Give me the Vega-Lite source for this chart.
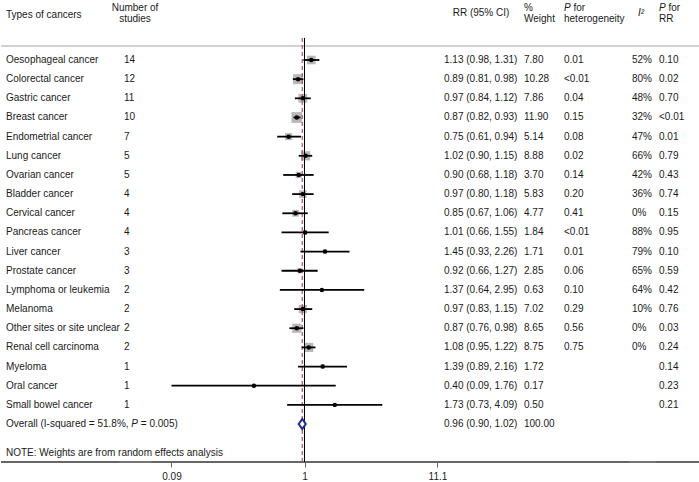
{
  "$schema": "https://vega.github.io/schema/vega-lite/v6.json",
  "padding": 0,
  "spacing": 0,
  "bounds": "flush",
  "background": "white",
  "config": {
    "view": {"stroke": null},
    "concat": {"spacing": 0},
    "text": {"font": "Liberation Sans", "fontSize": 10, "baseline": "middle", "align": "left", "color": "#1a1a1a"}
  },
  "datasets": {
    "rows": [
      {"i": 1, "cancer": "Oesophageal cancer", "n": 14, "rr": 1.13, "lo": 0.98, "hi": 1.31, "ci": "1.13 (0.98, 1.31)", "w": 7.80, "wt": "7.80", "phet": "0.01", "i2": "52%", "prr": "0.10"},
      {"i": 2, "cancer": "Colorectal cancer", "n": 12, "rr": 0.89, "lo": 0.81, "hi": 0.98, "ci": "0.89 (0.81, 0.98)", "w": 10.28, "wt": "10.28", "phet": "<0.01", "i2": "80%", "prr": "0.02"},
      {"i": 3, "cancer": "Gastric cancer", "n": 11, "rr": 0.97, "lo": 0.84, "hi": 1.12, "ci": "0.97 (0.84, 1.12)", "w": 7.86, "wt": "7.86", "phet": "0.04", "i2": "48%", "prr": "0.70"},
      {"i": 4, "cancer": "Breast cancer", "n": 10, "rr": 0.87, "lo": 0.82, "hi": 0.93, "ci": "0.87 (0.82, 0.93)", "w": 11.90, "wt": "11.90", "phet": "0.15", "i2": "32%", "prr": "<0.01"},
      {"i": 5, "cancer": "Endometrial cancer", "n": 7, "rr": 0.75, "lo": 0.61, "hi": 0.94, "ci": "0.75 (0.61, 0.94)", "w": 5.14, "wt": "5.14", "phet": "0.08", "i2": "47%", "prr": "0.01"},
      {"i": 6, "cancer": "Lung cancer", "n": 5, "rr": 1.02, "lo": 0.90, "hi": 1.15, "ci": "1.02 (0.90, 1.15)", "w": 8.88, "wt": "8.88", "phet": "0.02", "i2": "66%", "prr": "0.79"},
      {"i": 7, "cancer": "Ovarian cancer", "n": 5, "rr": 0.90, "lo": 0.68, "hi": 1.18, "ci": "0.90 (0.68, 1.18)", "w": 3.70, "wt": "3.70", "phet": "0.14", "i2": "42%", "prr": "0.43"},
      {"i": 8, "cancer": "Bladder cancer", "n": 4, "rr": 0.97, "lo": 0.80, "hi": 1.18, "ci": "0.97 (0.80, 1.18)", "w": 5.83, "wt": "5.83", "phet": "0.20", "i2": "36%", "prr": "0.74"},
      {"i": 9, "cancer": "Cervical cancer", "n": 4, "rr": 0.85, "lo": 0.67, "hi": 1.06, "ci": "0.85 (0.67, 1.06)", "w": 4.77, "wt": "4.77", "phet": "0.41", "i2": "0%", "prr": "0.15"},
      {"i": 10, "cancer": "Pancreas cancer", "n": 4, "rr": 1.01, "lo": 0.66, "hi": 1.55, "ci": "1.01 (0.66, 1.55)", "w": 1.84, "wt": "1.84", "phet": "<0.01", "i2": "88%", "prr": "0.95"},
      {"i": 11, "cancer": "Liver cancer", "n": 3, "rr": 1.45, "lo": 0.93, "hi": 2.26, "ci": "1.45 (0.93, 2.26)", "w": 1.71, "wt": "1.71", "phet": "0.01", "i2": "79%", "prr": "0.10"},
      {"i": 12, "cancer": "Prostate cancer", "n": 3, "rr": 0.92, "lo": 0.66, "hi": 1.27, "ci": "0.92 (0.66, 1.27)", "w": 2.85, "wt": "2.85", "phet": "0.06", "i2": "65%", "prr": "0.59"},
      {"i": 13, "cancer": "Lymphoma or leukemia", "n": 2, "rr": 1.37, "lo": 0.64, "hi": 2.95, "ci": "1.37 (0.64, 2.95)", "w": 0.63, "wt": "0.63", "phet": "0.10", "i2": "64%", "prr": "0.42"},
      {"i": 14, "cancer": "Melanoma", "n": 2, "rr": 0.97, "lo": 0.83, "hi": 1.15, "ci": "0.97 (0.83, 1.15)", "w": 7.02, "wt": "7.02", "phet": "0.29", "i2": "10%", "prr": "0.76"},
      {"i": 15, "cancer": "Other sites or site unclear", "n": 2, "rr": 0.87, "lo": 0.76, "hi": 0.98, "ci": "0.87 (0.76, 0.98)", "w": 8.65, "wt": "8.65", "phet": "0.56", "i2": "0%", "prr": "0.03"},
      {"i": 16, "cancer": "Renal cell carcinoma", "n": 2, "rr": 1.08, "lo": 0.95, "hi": 1.22, "ci": "1.08 (0.95, 1.22)", "w": 8.75, "wt": "8.75", "phet": "0.75", "i2": "0%", "prr": "0.24"},
      {"i": 17, "cancer": "Myeloma", "n": 1, "rr": 1.39, "lo": 0.89, "hi": 2.16, "ci": "1.39 (0.89, 2.16)", "w": 1.72, "wt": "1.72", "phet": "", "i2": "", "prr": "0.14"},
      {"i": 18, "cancer": "Oral cancer", "n": 1, "rr": 0.40, "lo": 0.09, "hi": 1.76, "ci": "0.40 (0.09, 1.76)", "w": 0.17, "wt": "0.17", "phet": "", "i2": "", "prr": "0.23"},
      {"i": 19, "cancer": "Small bowel cancer", "n": 1, "rr": 1.73, "lo": 0.73, "hi": 4.09, "ci": "1.73 (0.73, 4.09)", "w": 0.50, "wt": "0.50", "phet": "", "i2": "", "prr": "0.21"}
    ],
    "overall": [
      {"i": 20, "rr": 0.96, "lo": 0.90, "hi": 1.02, "ci": "0.96 (0.90, 1.02)", "wt": "100.00", "lab1": "Overall (I-squared = 51.8%,", "lab2": "P", "lab3": "= 0.005)"}
    ],
    "one": [{}]
  },
  "hconcat": [
    {
      "width": 118, "height": 462,
      "layer": [
        {"data": {"name": "one"}, "mark": {"type": "rule", "color": "#d0d0d0", "strokeWidth": 2}, "encoding": {"y": {"datum": 0.2693, "type": "quantitative", "scale": {"domain": [-2.1315, 21.981], "reverse": true, "nice": false, "zero": false}, "axis": null}}},
        {"data": {"name": "one"}, "mark": {"type": "rule", "color": "#666666", "strokeWidth": 1.8}, "encoding": {"y": {"datum": 21.981, "type": "quantitative"}}},
        {"data": {"name": "one"}, "mark": {"type": "text", "dx": 5}, "encoding": {"x": {"datum": 0, "type": "quantitative", "scale": {"domain": [0, 1]}, "axis": null}, "y": {"datum": -1.35, "type": "quantitative"}, "text": {"value": "Types of cancers"}}},
        {"data": {"name": "rows"}, "mark": {"type": "text", "dx": 5}, "encoding": {"x": {"datum": 0, "type": "quantitative"}, "y": {"field": "i", "type": "quantitative"}, "text": {"field": "cancer"}}},
        {"data": {"name": "overall"}, "mark": {"type": "text", "dx": 5}, "encoding": {"x": {"datum": 0, "type": "quantitative"}, "y": {"field": "i", "type": "quantitative"}, "text": {"field": "lab1"}}},
        {"data": {"name": "overall"}, "mark": {"type": "text", "dx": 130.3, "fontStyle": "italic"}, "encoding": {"x": {"datum": 0, "type": "quantitative"}, "y": {"field": "i", "type": "quantitative"}, "text": {"field": "lab2"}}},
        {"data": {"name": "overall"}, "mark": {"type": "text", "dx": 139.8}, "encoding": {"x": {"datum": 0, "type": "quantitative"}, "y": {"field": "i", "type": "quantitative"}, "text": {"field": "lab3"}}},
        {"data": {"name": "one"}, "mark": {"type": "text", "dx": 5}, "encoding": {"x": {"datum": 0, "type": "quantitative"}, "y": {"datum": 21.5, "type": "quantitative"}, "text": {"value": "NOTE: Weights are from random effects analysis"}}}
      ]
    },
    {
      "width": 32, "height": 462,
      "layer": [
        {"data": {"name": "one"}, "mark": {"type": "rule", "color": "#d0d0d0", "strokeWidth": 2}, "encoding": {"y": {"datum": 0.2693, "type": "quantitative", "scale": {"domain": [-2.1315, 21.981], "reverse": true, "nice": false, "zero": false}, "axis": null}}},
        {"data": {"name": "one"}, "mark": {"type": "rule", "color": "#666666", "strokeWidth": 1.8}, "encoding": {"y": {"datum": 21.981, "type": "quantitative"}}},
        {"data": {"name": "one"}, "mark": {"type": "text", "align": "center"}, "encoding": {"x": {"datum": 0.5, "type": "quantitative", "scale": {"domain": [0, 1]}, "axis": null}, "y": {"datum": -1.714, "type": "quantitative"}, "text": {"value": "Number of"}}},
        {"data": {"name": "one"}, "mark": {"type": "text", "align": "center"}, "encoding": {"x": {"datum": 0.5, "type": "quantitative"}, "y": {"datum": -1.14, "type": "quantitative"}, "text": {"value": "studies"}}},
        {"data": {"name": "rows"}, "mark": {"type": "text", "dx": 5}, "encoding": {"x": {"datum": 0, "type": "quantitative"}, "y": {"field": "i", "type": "quantitative"}, "text": {"field": "n"}}}
      ]
    },
    {
      "width": 290, "height": 462,
      "layer": [
        {"data": {"name": "one"}, "mark": {"type": "rule", "color": "#d0d0d0", "strokeWidth": 2}, "encoding": {"y": {"datum": 0.2693, "type": "quantitative", "scale": {"domain": [-2.1315, 21.981], "reverse": true, "nice": false, "zero": false}, "axis": null}}},
        {"data": {"name": "one"}, "mark": {"type": "rule", "color": "#666666", "strokeWidth": 1.8}, "encoding": {"y": {"datum": 21.981, "type": "quantitative"}}},
        {"data": {"name": "rows"}, "mark": {"type": "square", "color": "#b8b8b8", "opacity": 1}, "encoding": {
          "x": {"field": "rr", "type": "quantitative", "scale": {"type": "log", "domain": [0.06211, 11.834], "nice": false}, "axis": {"values": [0.09, 1, 11.1], "format": "~g", "domain": false, "grid": false, "ticks": true, "tickSize": 5, "tickColor": "#666666", "tickWidth": 1, "labelFontSize": 10, "labelFont": "Liberation Sans", "labelColor": "#1a1a1a", "labelPadding": 4, "title": null, "labelFlush": false, "labelOverlap": false}},
          "y": {"field": "i", "type": "quantitative"},
          "size": {"field": "w", "type": "quantitative", "scale": {"type": "linear", "domain": [0, 12], "range": [0, 116]}, "legend": null}}},
        {"data": {"name": "one"}, "mark": {"type": "rule", "color": "black", "strokeWidth": 1}, "encoding": {"x": {"datum": 1, "type": "quantitative"}, "y": {"datum": -0.15, "type": "quantitative"}, "y2": {"datum": 21.981}}},
        {"data": {"name": "overall"}, "mark": {"type": "rule", "color": "#b5505f", "strokeWidth": 1.2, "strokeDash": [4, 3]}, "encoding": {"x": {"field": "rr", "type": "quantitative"}, "y": {"datum": -0.15, "type": "quantitative"}, "y2": {"datum": 21.981}}},
        {"data": {"name": "rows"}, "mark": {"type": "rule", "color": "black", "strokeWidth": 1.8}, "encoding": {"x": {"field": "lo", "type": "quantitative"}, "x2": {"field": "hi"}, "y": {"field": "i", "type": "quantitative"}}},
        {"data": {"name": "rows"}, "mark": {"type": "circle", "color": "black", "size": 20, "opacity": 1}, "encoding": {"x": {"field": "rr", "type": "quantitative"}, "y": {"field": "i", "type": "quantitative"}}},
        {"data": {"name": "overall"}, "mark": {"type": "point", "shape": "M-0.7,0L0,-1L0.7,0L0,1Z", "filled": true, "color": "white", "opacity": 1, "stroke": "#1c2a85", "strokeWidth": 2, "size": 100}, "encoding": {"x": {"field": "rr", "type": "quantitative"}, "y": {"field": "i", "type": "quantitative"}}}
      ]
    },
    {
      "width": 80, "height": 462,
      "layer": [
        {"data": {"name": "one"}, "mark": {"type": "rule", "color": "#d0d0d0", "strokeWidth": 2}, "encoding": {"y": {"datum": 0.2693, "type": "quantitative", "scale": {"domain": [-2.1315, 21.981], "reverse": true, "nice": false, "zero": false}, "axis": null}}},
        {"data": {"name": "one"}, "mark": {"type": "rule", "color": "#666666", "strokeWidth": 1.8}, "encoding": {"y": {"datum": 21.981, "type": "quantitative"}}},
        {"data": {"name": "one"}, "mark": {"type": "text", "align": "center"}, "encoding": {"x": {"datum": 0.5, "type": "quantitative", "scale": {"domain": [0, 1]}, "axis": null}, "y": {"datum": -1.43, "type": "quantitative"}, "text": {"value": "RR (95% CI)"}}},
        {"data": {"name": "rows"}, "mark": {"type": "text", "dx": 3}, "encoding": {"x": {"datum": 0, "type": "quantitative"}, "y": {"field": "i", "type": "quantitative"}, "text": {"field": "ci"}}},
        {"data": {"name": "overall"}, "mark": {"type": "text", "dx": 3}, "encoding": {"x": {"datum": 0, "type": "quantitative"}, "y": {"field": "i", "type": "quantitative"}, "text": {"field": "ci"}}}
      ]
    },
    {
      "width": 40, "height": 462,
      "layer": [
        {"data": {"name": "one"}, "mark": {"type": "rule", "color": "#d0d0d0", "strokeWidth": 2}, "encoding": {"y": {"datum": 0.2693, "type": "quantitative", "scale": {"domain": [-2.1315, 21.981], "reverse": true, "nice": false, "zero": false}, "axis": null}}},
        {"data": {"name": "one"}, "mark": {"type": "rule", "color": "#666666", "strokeWidth": 1.8}, "encoding": {"y": {"datum": 21.981, "type": "quantitative"}}},
        {"data": {"name": "one"}, "mark": {"type": "text", "dx": 3}, "encoding": {"x": {"datum": 0, "type": "quantitative", "scale": {"domain": [0, 1]}, "axis": null}, "y": {"datum": -1.714, "type": "quantitative"}, "text": {"value": "%"}}},
        {"data": {"name": "one"}, "mark": {"type": "text", "dx": 3}, "encoding": {"x": {"datum": 0, "type": "quantitative"}, "y": {"datum": -1.14, "type": "quantitative"}, "text": {"value": "Weight"}}},
        {"data": {"name": "rows"}, "mark": {"type": "text", "dx": 3}, "encoding": {"x": {"datum": 0, "type": "quantitative"}, "y": {"field": "i", "type": "quantitative"}, "text": {"field": "wt"}}},
        {"data": {"name": "overall"}, "mark": {"type": "text", "dx": 3}, "encoding": {"x": {"datum": 0, "type": "quantitative"}, "y": {"field": "i", "type": "quantitative"}, "text": {"field": "wt"}}}
      ]
    },
    {
      "width": 68, "height": 462,
      "layer": [
        {"data": {"name": "one"}, "mark": {"type": "rule", "color": "#d0d0d0", "strokeWidth": 2}, "encoding": {"y": {"datum": 0.2693, "type": "quantitative", "scale": {"domain": [-2.1315, 21.981], "reverse": true, "nice": false, "zero": false}, "axis": null}}},
        {"data": {"name": "one"}, "mark": {"type": "rule", "color": "#666666", "strokeWidth": 1.8}, "encoding": {"y": {"datum": 21.981, "type": "quantitative"}}},
        {"data": {"name": "one"}, "mark": {"type": "text", "dx": 3, "fontStyle": "italic"}, "encoding": {"x": {"datum": 0, "type": "quantitative", "scale": {"domain": [0, 1]}, "axis": null}, "y": {"datum": -1.714, "type": "quantitative"}, "text": {"value": "P"}}},
        {"data": {"name": "one"}, "mark": {"type": "text", "dx": 12.4}, "encoding": {"x": {"datum": 0, "type": "quantitative"}, "y": {"datum": -1.714, "type": "quantitative"}, "text": {"value": "for"}}},
        {"data": {"name": "one"}, "mark": {"type": "text", "dx": 3}, "encoding": {"x": {"datum": 0, "type": "quantitative"}, "y": {"datum": -1.14, "type": "quantitative"}, "text": {"value": "heterogeneity"}}},
        {"data": {"name": "rows"}, "mark": {"type": "text", "dx": 3}, "encoding": {"x": {"datum": 0, "type": "quantitative"}, "y": {"field": "i", "type": "quantitative"}, "text": {"field": "phet"}}}
      ]
    },
    {
      "width": 27, "height": 462,
      "layer": [
        {"data": {"name": "one"}, "mark": {"type": "rule", "color": "#d0d0d0", "strokeWidth": 2}, "encoding": {"y": {"datum": 0.2693, "type": "quantitative", "scale": {"domain": [-2.1315, 21.981], "reverse": true, "nice": false, "zero": false}, "axis": null}}},
        {"data": {"name": "one"}, "mark": {"type": "rule", "color": "#666666", "strokeWidth": 1.8}, "encoding": {"y": {"datum": 21.981, "type": "quantitative"}}},
        {"data": {"name": "one"}, "mark": {"type": "text", "dx": 9, "fontStyle": "italic"}, "encoding": {"x": {"datum": 0, "type": "quantitative", "scale": {"domain": [0, 1]}, "axis": null}, "y": {"datum": -1.43, "type": "quantitative"}, "text": {"value": "I²"}}},
        {"data": {"name": "rows"}, "mark": {"type": "text", "dx": 3}, "encoding": {"x": {"datum": 0, "type": "quantitative"}, "y": {"field": "i", "type": "quantitative"}, "text": {"field": "i2"}}}
      ]
    },
    {
      "width": 44, "height": 462,
      "layer": [
        {"data": {"name": "one"}, "mark": {"type": "rule", "color": "#d0d0d0", "strokeWidth": 2}, "encoding": {"y": {"datum": 0.2693, "type": "quantitative", "scale": {"domain": [-2.1315, 21.981], "reverse": true, "nice": false, "zero": false}, "axis": null}}},
        {"data": {"name": "one"}, "mark": {"type": "rule", "color": "#666666", "strokeWidth": 1.8}, "encoding": {"y": {"datum": 21.981, "type": "quantitative"}}},
        {"data": {"name": "one"}, "mark": {"type": "text", "dx": 3, "fontStyle": "italic"}, "encoding": {"x": {"datum": 0, "type": "quantitative", "scale": {"domain": [0, 1]}, "axis": null}, "y": {"datum": -1.714, "type": "quantitative"}, "text": {"value": "P"}}},
        {"data": {"name": "one"}, "mark": {"type": "text", "dx": 12.4}, "encoding": {"x": {"datum": 0, "type": "quantitative"}, "y": {"datum": -1.714, "type": "quantitative"}, "text": {"value": "for"}}},
        {"data": {"name": "one"}, "mark": {"type": "text", "dx": 3}, "encoding": {"x": {"datum": 0, "type": "quantitative"}, "y": {"datum": -1.14, "type": "quantitative"}, "text": {"value": "RR"}}},
        {"data": {"name": "rows"}, "mark": {"type": "text", "dx": 3}, "encoding": {"x": {"datum": 0, "type": "quantitative"}, "y": {"field": "i", "type": "quantitative"}, "text": {"field": "prr"}}}
      ]
    }
  ]
}
